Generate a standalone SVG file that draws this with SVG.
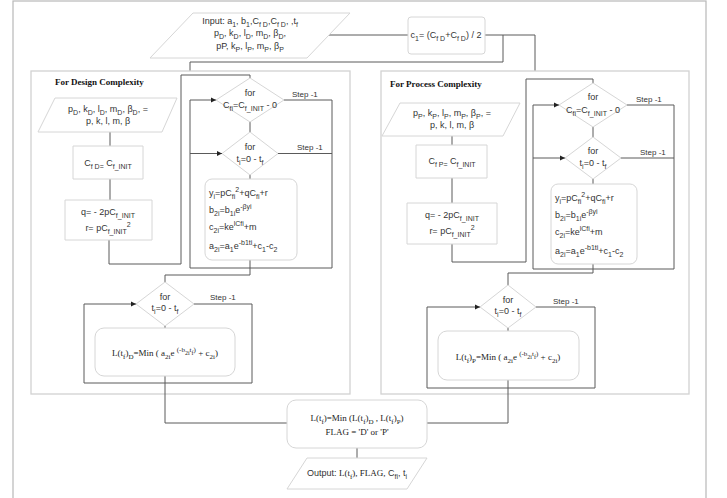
<svg xmlns="http://www.w3.org/2000/svg" width="727" height="498" viewBox="0 0 727 498">
<defs>
<marker id="ar" markerWidth="6" markerHeight="6" refX="5" refY="3" orient="auto" markerUnits="userSpaceOnUse"><path d="M0,0.5 L5,3 L0,5.5 Z" fill="#222"/></marker>
<style>
.fr{fill:#fff;stroke:#b8b8b8;stroke-width:1.2}
.pn{fill:#fff;stroke:#d2d2d2;stroke-width:1.3}
.sh{fill:#fff;stroke:#d6d6d6;stroke-width:1;stroke-linejoin:round}
.ln{fill:none;stroke:#5a5a5a;stroke-width:1}
.t{font-family:"Liberation Sans",Arial,sans-serif;font-size:9px;fill:#333}
.st{font-family:"Liberation Sans",Arial,sans-serif;font-size:8px;fill:#333}
.s{font-family:"Liberation Serif","Times New Roman",serif;font-size:9px;fill:#222}
.h{font-family:"Liberation Serif","Times New Roman",serif;font-size:9px;font-weight:bold;fill:#111}
.m{text-anchor:middle}
.b{font-size:7px;baseline-shift:-2.5px}
.p{font-size:7px;baseline-shift:4px}
.pb{font-size:6px;baseline-shift:1px}
</style>
</defs>
<rect class="fr" x="13" y="1" width="693" height="510"/>

<g id="connectors">
<path class="ln" d="M329,35 H408"/>
<path class="ln" d="M485,35 H535 V71"/>
<path class="ln" d="M503,35 V62 H190 V71"/>
</g>

<g id="input">
<polygon class="sh" points="193,13 350,13 307,58 150,58"/>
<text class="t m" x="250" y="24">Input: a<tspan class="b">1</tspan>, b<tspan class="b">1</tspan>,C<tspan class="b">f D</tspan>,C<tspan class="b">f D</tspan>, ,t<tspan class="b">f</tspan></text>
<text class="t m" x="250" y="36">p<tspan class="b">D</tspan>, k<tspan class="b">D</tspan>, l<tspan class="b">D</tspan>, m<tspan class="b">D</tspan>, β<tspan class="b">D</tspan>,</text>
<text class="t m" x="250" y="49">pP, k<tspan class="b">P</tspan>, l<tspan class="b">P</tspan>, m<tspan class="b">P</tspan>, β<tspan class="b">P</tspan></text>
</g>
<g id="c1">
<rect class="sh" x="408" y="17" width="77" height="37" rx="3"/>
<text class="t m" x="446" y="38">c<tspan class="b">1</tspan>= (C<tspan class="b">f D</tspan>+C<tspan class="b">f D</tspan>) / 2</text>
</g>

<g id="design-panel">
<rect class="pn" x="31" y="71" width="319" height="323"/>
<text class="h" x="55" y="85">For Design Complexity</text>
</g>
<g id="process-panel">
<rect class="pn" x="381" y="71" width="308" height="323"/>
<text class="h" x="390" y="87">For Process Complexity</text>
</g>

<g id="connectors-left">
<path class="ln" d="M110,132 V146"/>
<path class="ln" d="M110,179 V200"/>
<path class="ln" d="M109,240 V264 H181 V75 H250 V78"/>
<path class="ln" d="M250,122 V132"/>
<path class="ln" d="M284,100 H332 V268 H190 V100 H216" marker-end="url(#ar)"/>
<path class="ln" d="M278,153.5 H332"/>
<path class="ln" d="M190,153.5 H222" marker-end="url(#ar)"/>
<path class="ln" d="M250,175 V179"/>
<path class="ln" d="M250,260 V275 H165 V282"/>
<path class="ln" d="M194,304 H252 V383 H84 V304 H136" marker-end="url(#ar)"/>
<path class="ln" d="M165,326 V328"/>
<path class="ln" d="M165,376 V423 H287"/>
</g>
<g id="connectors-right">
<path class="ln" d="M452,136 V145"/>
<path class="ln" d="M452,178 V203"/>
<path class="ln" d="M452,244 V262 H526 V79 H593 V83"/>
<path class="ln" d="M593,127 V137"/>
<path class="ln" d="M627,105 H674 V269 H533 V105 H559" marker-end="url(#ar)"/>
<path class="ln" d="M621,158 H674"/>
<path class="ln" d="M533,158 H565" marker-end="url(#ar)"/>
<path class="ln" d="M593,179 V184"/>
<path class="ln" d="M593,264 V273 H508 V285"/>
<path class="ln" d="M536,307 H595 V388 H427 V307 H480" marker-end="url(#ar)"/>
<path class="ln" d="M508,328 V331"/>
<path class="ln" d="M508,380 V423 H427"/>
<path class="ln" d="M357,448 V458"/>
</g>

<g id="params-d">
<polygon class="sh" points="55,98 177,98 162,132 38,132"/>
<text class="t m" x="108" y="112">p<tspan class="b">D</tspan>, k<tspan class="b">D</tspan>, l<tspan class="b">D</tspan>, m<tspan class="b">D</tspan>, β<tspan class="b">D</tspan>, =</text>
<text class="t m" x="108" y="124">p, k, l, m, β</text>
</g>
<g id="cfd">
<rect class="sh" x="73" y="146" width="70" height="33"/>
<text class="t m" x="108" y="166">C<tspan class="b">f D=</tspan> C<tspan class="b">f_INIT</tspan></text>
</g>
<g id="qr-d">
<rect class="sh" x="65" y="200" width="87" height="40"/>
<text class="t m" x="108" y="215">q= - 2pC<tspan class="b">f_INIT</tspan></text>
<text class="t m" x="108" y="231">r= pC<tspan class="b">f_INIT</tspan><tspan class="p">2</tspan></text>
</g>
<g id="for-cfi-d">
<polygon class="sh" points="250,78 284,100 250,122 216,100"/>
<text class="t m" x="250" y="96">for</text>
<text class="t m" x="250" y="108">C<tspan class="b">fi</tspan>=C<tspan class="b">f_INIT</tspan> - 0</text>
<text class="st" x="292" y="97">Step -1</text>
</g>
<g id="for-ti-d">
<polygon class="sh" points="250,132 278,153.5 250,175 222,153.5"/>
<text class="t m" x="250" y="150">for</text>
<text class="t m" x="250" y="162">t<tspan class="b">i</tspan>=0 - t<tspan class="b">f</tspan></text>
<text class="st" x="297" y="150">Step -1</text>
</g>
<g id="calc-d">
<rect class="sh" x="205" y="179" width="92" height="81" rx="7"/>
<text class="t" x="209" y="196">y<tspan class="b">i</tspan>=pC<tspan class="b">fi</tspan><tspan class="p">2</tspan>+qC<tspan class="b">fi</tspan>+r</text>
<text class="t" x="209" y="213">b<tspan class="b">2i</tspan>=b<tspan class="b">1i</tspan>e<tspan class="p">-βyi</tspan></text>
<text class="t" x="209" y="230">c<tspan class="b">2i</tspan>=ke<tspan class="p">lCfi</tspan>+m</text>
<text class="t" x="209" y="249">a<tspan class="b">2i</tspan>=a<tspan class="b">1</tspan>e<tspan class="p">-b1ti</tspan>+c<tspan class="b">1</tspan>-c<tspan class="b">2</tspan></text>
</g>
<g id="for-tf-d">
<polygon class="sh" points="165,282 194,304 165,326 136,304"/>
<text class="t m" x="165" y="300">for</text>
<text class="t m" x="165" y="311">t<tspan class="b">i</tspan>=0 - t<tspan class="b">f</tspan></text>
<text class="st" x="210" y="300">Step -1</text>
</g>
<g id="min-d">
<rect class="sh" x="95" y="328" width="140" height="48" rx="9"/>
<text class="s m" x="165" y="356">L(t<tspan class="b">f</tspan>)<tspan class="b">D</tspan>=Min ( a<tspan class="b">2i</tspan>e <tspan class="p">(-b</tspan><tspan class="pb">2i</tspan><tspan class="p">t</tspan><tspan class="pb">f</tspan><tspan class="p">)</tspan> + c<tspan class="b">2i</tspan>)</text>
</g>

<g id="params-p">
<polygon class="sh" points="400,103 520,103 503,136 382,136"/>
<text class="t m" x="452" y="116">p<tspan class="b">P</tspan>, k<tspan class="b">P</tspan>, l<tspan class="b">P</tspan>, m<tspan class="b">P</tspan>, β<tspan class="b">P</tspan>, =</text>
<text class="t m" x="452" y="128">p, k, l, m, β</text>
</g>
<g id="cfp">
<rect class="sh" x="416" y="145" width="71" height="33"/>
<text class="t m" x="452" y="164">C<tspan class="b">f P=</tspan> C<tspan class="b">f_INIT</tspan></text>
</g>
<g id="qr-p">
<rect class="sh" x="407" y="203" width="90" height="41"/>
<text class="t m" x="452" y="218">q= - 2pC<tspan class="b">f_INIT</tspan></text>
<text class="t m" x="452" y="234">r= pC<tspan class="b">f_INIT</tspan><tspan class="p">2</tspan></text>
</g>
<g id="for-cfi-p">
<polygon class="sh" points="593,83 627,105 593,127 559,105"/>
<text class="t m" x="593" y="100">for</text>
<text class="t m" x="593" y="113">C<tspan class="b">fi</tspan>=C<tspan class="b">f_INIT</tspan> - 0</text>
<text class="st" x="636" y="102">Step -1</text>
</g>
<g id="for-ti-p">
<polygon class="sh" points="593,137 621,158 593,179 565,158"/>
<text class="t m" x="593" y="154">for</text>
<text class="t m" x="593" y="166">t<tspan class="b">i</tspan>=0 - t<tspan class="b">f</tspan></text>
<text class="st" x="640" y="155">Step -1</text>
</g>
<g id="calc-p">
<rect class="sh" x="551" y="184" width="86" height="80" rx="7"/>
<text class="t" x="555" y="201">y<tspan class="b">i</tspan>=pC<tspan class="b">fi</tspan><tspan class="p">2</tspan>+qC<tspan class="b">fi</tspan>+r</text>
<text class="t" x="555" y="218">b<tspan class="b">2i</tspan>=b<tspan class="b">1i</tspan>e<tspan class="p">-βyi</tspan></text>
<text class="t" x="555" y="235">c<tspan class="b">2i</tspan>=ke<tspan class="p">lCfi</tspan>+m</text>
<text class="t" x="555" y="254">a<tspan class="b">2i</tspan>=a<tspan class="b">1</tspan>e<tspan class="p">-b1ti</tspan>+c<tspan class="b">1</tspan>-c<tspan class="b">2</tspan></text>
</g>
<g id="for-tf-p">
<polygon class="sh" points="508,285 536,307 508,328 480,307"/>
<text class="t m" x="508" y="303">for</text>
<text class="t m" x="508" y="314">t<tspan class="b">i</tspan>=0 - t<tspan class="b">f</tspan></text>
<text class="st" x="553" y="304">Step -1</text>
</g>
<g id="min-p">
<rect class="sh" x="438" y="331" width="141" height="49" rx="9"/>
<text class="s m" x="508" y="360">L(t<tspan class="b">f</tspan>)<tspan class="b">P</tspan>=Min ( a<tspan class="b">2i</tspan>e <tspan class="p">(-b</tspan><tspan class="pb">2i</tspan><tspan class="p">t</tspan><tspan class="pb">f</tspan><tspan class="p">)</tspan> + c<tspan class="b">2i</tspan>)</text>
</g>

<g id="final">
<rect class="sh" x="287" y="400" width="140" height="48" rx="9"/>
<text class="s m" x="357" y="421">L(t<tspan class="b">f</tspan>)=Min (L(t<tspan class="b">f</tspan>)<tspan class="b">D</tspan> , L(t<tspan class="b">f</tspan>)<tspan class="b">P</tspan>)</text>
<text class="s m" x="357" y="435">FLAG = 'D' or 'P'</text>
</g>
<g id="output">
<polygon class="sh" points="307,458 427,458 407,489 287,489"/>
<text class="t m" x="357" y="476">Output: <tspan class="s">L(t<tspan class="b">f</tspan>), FLAG,</tspan> C<tspan class="b">fi</tspan>, t<tspan class="b">i</tspan></text>
</g>
</svg>
